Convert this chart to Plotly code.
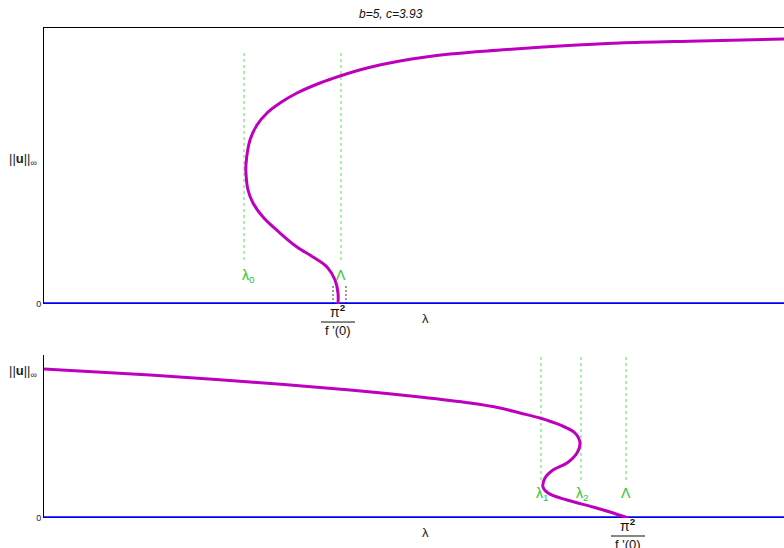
import plotly.graph_objects as go

# ---- data ----
top_lambda = [2.94, 2.94, 2.91, 2.83, 2.69, 2.53, 2.36, 2.19, 2.09, 2.04, 2.02, 2.02, 2.06, 2.13,
              2.23, 2.36, 2.53, 2.76, 2.96, 3.23, 3.56, 4.06, 4.56, 5.16, 5.76, 6.56, 7.40]
top_u = [0.00, 0.11, 0.24, 0.37, 0.47, 0.57, 0.71, 0.87, 1.01, 1.14, 1.30, 1.40, 1.64, 1.79,
         1.91, 2.01, 2.11, 2.21, 2.28, 2.36, 2.43, 2.50, 2.54, 2.58, 2.61, 2.63, 2.65]

bot_lambda = [0.00, 1.06, 2.06, 3.06, 3.76, 4.26, 4.56, 4.76, 4.96, 5.16, 5.31, 5.36, 5.33, 5.23,
              5.09, 5.01, 4.99, 5.04, 5.23, 5.49, 5.66, 5.84]
bot_u = [1.49, 1.43, 1.36, 1.28, 1.21, 1.15, 1.10, 1.05, 1.00, 0.93, 0.85, 0.75, 0.65, 0.55,
         0.48, 0.40, 0.31, 0.25, 0.18, 0.11, 0.06, 0.00]

top_marks = [2.00, 2.97]                 # lambda_0, Lambda
top_mark_labels = ["λ<sub>0</sub>", "Λ"]
top_mark_u = [0.44, 2.54]
bot_marks = [4.97, 5.37, 5.82]           # lambda_1, lambda_2, Lambda
bot_mark_labels = ["λ<sub>1</sub>", "λ<sub>2</sub>", "Λ"]
bot_mark_u = [0.38, 1.63]

top_pi_lambda = 2.94
bot_pi_lambda = 5.84
small_ticks = [2.89, 3.02]
small_ticks_u = [0.0, 0.2]

x_range = [0, 7.4]
top_y_range = [0, 2.76]
bot_y_range = [0, 1.63]
top_domain = [0.4367, 1]
bot_domain = [0, 0.3327]
title_text = "b=5, c=3.93"

MAG = "rgb(190,0,190)"
BLUE = "rgb(0,0,240)"
GREEN_L = "rgb(90,220,90)"
GREEN_T = "rgb(40,200,40)"
FONT = "Liberation Sans, Arial, sans-serif"

fig = go.Figure()

# top panel
for xm in top_marks:
    fig.add_trace(go.Scatter(x=[xm, xm], y=top_mark_u, mode="lines",
                             line=dict(color=GREEN_L, width=1, dash="dot"),
                             xaxis="x", yaxis="y", showlegend=False, hoverinfo="skip"))
for xs in small_ticks:
    fig.add_trace(go.Scatter(x=[xs, xs], y=small_ticks_u, mode="lines",
                             line=dict(color="rgb(120,120,120)", width=1.5, dash="2px,2px"),
                             xaxis="x", yaxis="y", showlegend=False, hoverinfo="skip"))
fig.add_trace(go.Scatter(x=x_range, y=[0, 0], mode="lines", line=dict(color=BLUE, width=3.5),
                         xaxis="x", yaxis="y", showlegend=False, cliponaxis=False))
fig.add_trace(go.Scatter(x=top_lambda, y=top_u, mode="lines",
                         line=dict(color=MAG, width=3, shape="spline", smoothing=1.0),
                         xaxis="x", yaxis="y", showlegend=False, cliponaxis=False))

# bottom panel
for xm in bot_marks:
    fig.add_trace(go.Scatter(x=[xm, xm], y=bot_mark_u, mode="lines",
                             line=dict(color=GREEN_L, width=1, dash="dot"),
                             xaxis="x2", yaxis="y2", showlegend=False, hoverinfo="skip"))
fig.add_trace(go.Scatter(x=x_range, y=[0, 0], mode="lines", line=dict(color=BLUE, width=3.5),
                         xaxis="x2", yaxis="y2", showlegend=False, cliponaxis=False))
fig.add_trace(go.Scatter(x=bot_lambda, y=bot_u, mode="lines",
                         line=dict(color=MAG, width=3, shape="spline", smoothing=1.0),
                         xaxis="x2", yaxis="y2", showlegend=False, cliponaxis=False))

annotations = []
shapes = []

# green labels
for xm, lab in zip(top_marks, top_mark_labels):
    annotations.append(dict(x=xm, y=top_mark_u[0], xref="x", yref="y", text=lab, showarrow=False,
                            yanchor="top", yshift=-5, xshift=4 if "sub" in lab else 0,
                            font=dict(color=GREEN_T, size=14, family=FONT)))
for xm, lab in zip(bot_marks, bot_mark_labels):
    annotations.append(dict(x=xm, y=bot_mark_u[0], xref="x2", yref="y2", text=lab, showarrow=False,
                            yanchor="top", yshift=-3, xshift=1 if "sub" in lab else 0,
                            font=dict(color=GREEN_T, size=14, family=FONT)))

# lambda axis labels and ||u|| labels
for xr, yr in (("x", "y"), ("x2", "y2")):
    annotations.append(dict(x=3.81, y=0, xref=xr, yref=yr, text="λ", showarrow=False,
                            yanchor="top", yshift=-5, font=dict(size=13, color="#222", family=FONT)))
    annotations.append(dict(x=0, y=1, xref=xr + " domain", yref=yr + " domain",
                            text="||<b>u</b>||<sub>∞</sub>", showarrow=False,
                            xanchor="right", xshift=-5, yanchor="middle",
                            yshift=-131 if xr == "x" else -17,
                            font=dict(size=13, color="#222", family=FONT)))

# pi^2 / f'(0) fraction labels
for xr, yr, xv, dom in (("x", "y", top_pi_lambda, top_domain), ("x2", "y2", bot_pi_lambda, bot_domain)):
    annotations.append(dict(x=xv, y=0, xref=xr, yref=yr, text="π<b><sup>2</sup></b>", showarrow=False,
                            yanchor="bottom", yshift=-18, font=dict(size=14, color="#111", family=FONT)))
    annotations.append(dict(x=xv, y=0, xref=xr, yref=yr, text="f '(0)", showarrow=False,
                            yanchor="top", yshift=-17, font=dict(size=13, color="#111", family=FONT)))
    px = (xv - x_range[0]) / (x_range[1] - x_range[0])
    shapes.append(dict(type="line", xref="paper", yref="paper", xsizemode="pixel", ysizemode="pixel",
                       xanchor=px, yanchor=dom[0], x0=-17, x1=17, y0=-18, y1=-18,
                       line=dict(color="#111", width=1)))

# title
annotations.append(dict(x=0.469, y=1, xref="paper", yref="paper", text="<i>" + title_text + "</i>",
                        showarrow=False, yanchor="bottom", yshift=5,
                        font=dict(size=12, color="#111", family=FONT)))

axis_common = dict(range=x_range, showgrid=False, zeroline=False, showticklabels=False,
                   ticks="", linecolor="black", linewidth=1)
yaxis_common = dict(showgrid=False, zeroline=False, ticks="", tickvals=[0], ticktext=["0"],
                    tickfont=dict(size=9, color="#222", family=FONT),
                    showline=True, linecolor="black", linewidth=1)

fig.update_layout(
    width=784, height=548,
    margin=dict(l=44, r=0, t=28, b=30),
    paper_bgcolor="white", plot_bgcolor="white",
    xaxis=dict(domain=[0, 1], anchor="y", side="top", showline=True, **axis_common),
    yaxis=dict(domain=top_domain, anchor="x", range=top_y_range, **yaxis_common),
    xaxis2=dict(domain=[0, 1], anchor="y2", showline=False, **axis_common),
    yaxis2=dict(domain=bot_domain, anchor="x2", range=bot_y_range, **yaxis_common),
    annotations=annotations, shapes=shapes,
    font=dict(family=FONT),
)

fig.write_html("out.html", config={"displayModeBar": False},
               post_script="document.body.style.margin='0';document.body.style.overflow='hidden';")
